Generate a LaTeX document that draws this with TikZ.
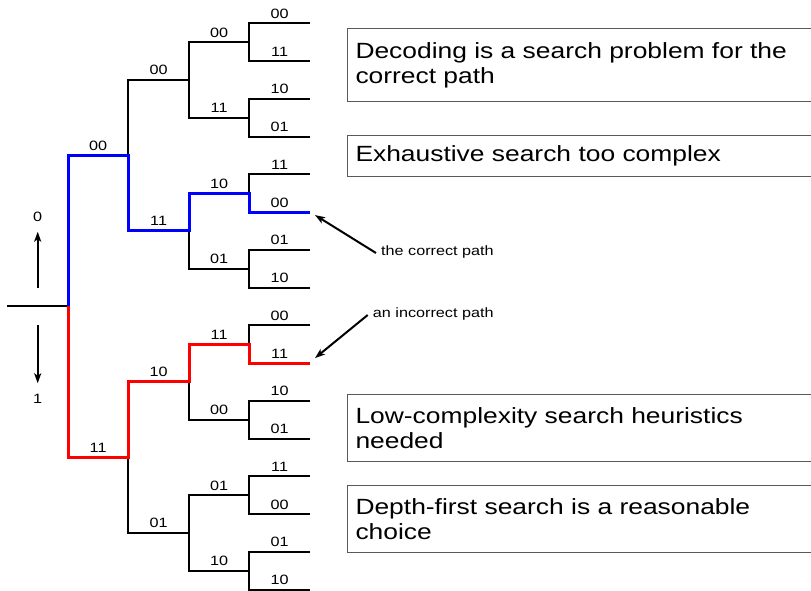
\documentclass[tikz,border=0pt]{standalone}
\usepackage{fontspec}
\setmainfont[FakeStretch=1.2]{Liberation Sans}
\usetikzlibrary{arrows.meta}

\definecolor{pathblue}{RGB}{0,0,255}
\definecolor{pathred}{RGB}{255,0,0}
\definecolor{frame}{RGB}{90,90,90}

% one level of the code tree: #1 depth, #2 x of branch point, #3 x of child, #4 branch labels
\newcommand\treelevel[4]{%
  \foreach \t [count=\k from 0] in {#4} {
    \pgfmathsetmacro\yy{23.3+37.75*((\k+0.5)*2^(4-#1)-0.5)}
    \coordinate (s#1-\k) at (#2,\yy);
    \coordinate (e#1-\k) at (#3,\yy);
    \path (s#1-\k) -- node[bit] (t#1-\k) {\t} (e#1-\k);
  }%
}

\begin{document}
\begin{tikzpicture}[x=1pt,y=-1pt,
  edge/.style={line width=2pt, line join=miter, draw=black},
  goodpath/.style={line width=3pt, line join=miter, draw=pathblue},
  badpath/.style={line width=3pt, line join=miter, draw=pathred},
  bit/.style={anchor=base, yshift=5pt, inner sep=0pt, font=\fontsize{13.5}{16}\selectfont},
  small/.style={inner sep=0pt, font=\fontsize{13.5}{16}\selectfont},
  pointer/.style={line width=2pt, -{Stealth[length=10pt,width=7pt,inset=2.5pt]}},
  note/.style={draw=frame, line width=1pt, anchor=north west, text width=460pt,
    inner xsep=8pt, inner ysep=0pt, align=left,
    font=\fontsize{22}{25}\selectfont}
]
\useasboundingbox (0,0) rectangle (811,590);

% branch points and labels
\treelevel{1}{68}{128.3}{00,11}
\treelevel{2}{128.3}{189}{00,11,10,01}
\treelevel{3}{189}{249.3}{00,11,10,01,11,00,01,10}
\treelevel{4}{249.3}{310}{00,11,10,01,11,00,01,10,00,11,10,01,11,00,01,10}

\coordinate (root) at (68,306.4);
\coordinate (rootin) at (7.3,306.4);

% tree in black
\draw[edge] (rootin) -- (root);
\foreach \L in {1,...,4} {
  \pgfmathtruncatemacro\np{2^(\L-1)-1}
  \foreach \j in {0,...,\np} {
    \pgfmathtruncatemacro\ka{2*\j}
    \pgfmathtruncatemacro\kb{2*\j+1}
    \draw[edge] (e\L-\ka) -- (s\L-\ka) -- (s\L-\kb) -- (e\L-\kb);
  }
}

% correct and incorrect paths
\draw[goodpath] (root) -- (s1-0) -- (e1-0) -- (s2-1) -- (e2-1) -- (s3-2) -- (e3-2) -- (s4-5) -- (e4-5);
\draw[badpath] (root) -- (s1-1) -- (e1-1) -- (s2-2) -- (e2-2) -- (s3-4) -- (e3-4) -- (s4-9) -- (e4-9);

% input bit direction
\node[small] (zero) at (37.7,216.7) {0};
\node[small] (one) at (37.7,399) {1};
\coordinate (upfrom) at (37.7,288.3);
\coordinate (downfrom) at (37.7,325);
\draw[pointer] (upfrom) -- ([yshift=-15pt]zero.center);
\draw[pointer] (downfrom) -- ([yshift=15.7pt]one.center);

% path annotations
\node[small, anchor=west] (good) at (381,252) {the correct path};
\node[small, anchor=west] (bad) at (372.7,314) {an incorrect path};
\draw[pointer] ([xshift=-5pt,yshift=-1pt]good.west) -- ([xshift=5pt,yshift=-3pt]e4-5);
\draw[pointer] ([xshift=-5pt,yshift=-1pt]bad.west) -- ([xshift=5pt,yshift=5pt]e4-9);

% remarks
\node[note, minimum height=72.4pt] (n1) at (347,28.3) {Decoding is a search problem for the\\correct path};
\node[note, minimum height=41pt] (n2) at (347,135) {Exhaustive search too complex};
\node[note, minimum height=67pt] (n3) at (347,394) {Low-complexity search heuristics\\needed};
\node[note, minimum height=67pt] (n4) at (347,485) {Depth-first search is a reasonable\\choice};
\end{tikzpicture}
\end{document}
